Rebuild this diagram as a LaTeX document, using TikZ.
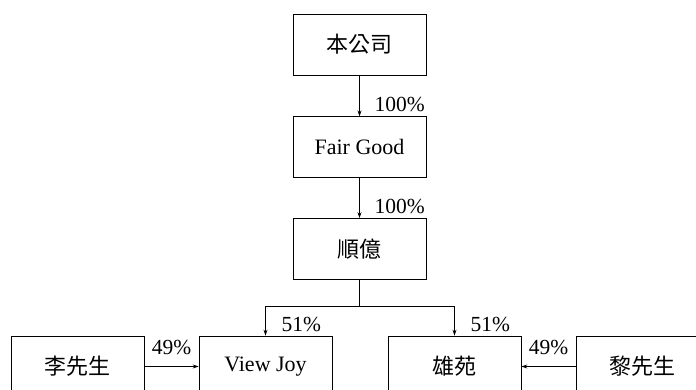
\documentclass[tikz,border=0pt]{standalone}
\usepackage{fontspec}
\setmainfont{Liberation Serif}
\newfontfamily\cjk{Noto Sans CJK TC}
\usetikzlibrary{positioning, arrows.meta}
\tikzset{
	entity/.style = {draw, line width=0.7pt, minimum width=133pt, minimum height=61pt, inner sep=0pt, font=\fontsize{22}{25}\selectfont},
	holding/.style = {line width=0.7pt, -{Stealth[length=6pt, width=4pt]}},
	share/.style = {font=\fontsize{21.5}{24}\selectfont, inner sep=2pt},
}

\begin{document}
\begin{tikzpicture}[x=1pt, y=1pt]
	\useasboundingbox (0,0) rectangle (696,390);
	\node[entity] (company) at (359.5,345.5) {\cjk 本公司};
	\node[entity, below=41pt of company] (fairgood) {Fair Good};
	\node[entity, below=40pt of fairgood] (shunyi) {\cjk 順億};
	\node[entity] (li)        at (77.5,23.5)  {\cjk 李先生};
	\node[entity] (viewjoy)   at (265.5,23.5) {View Joy};
	\node[entity] (xiongyuan) at (454.5,23.5) {\cjk 雄苑};
	\node[entity] (lai)       at (642.5,23.5) {\cjk 黎先生};
	\coordinate (split) at (359.5,84);
	% chain of control
	\draw[holding] (company) -- (fairgood);
	\node[share, anchor=south west] at ([xshift=13pt, yshift=2pt]fairgood.north) {100\%};
	\draw[holding] (fairgood) -- (shunyi);
	\node[share, anchor=south west] at ([xshift=13pt, yshift=2pt]shunyi.north) {100\%};
	% branch to the two subsidiaries
	\draw[line width=0.7pt] (shunyi) -- (split);
	\draw[holding] (split) -| (viewjoy);
	\draw[holding] (split) -| (xiongyuan);
	\node[share, anchor=south west] at ([xshift=14pt, yshift=2pt]viewjoy.north) {51\%};
	\node[share, anchor=south west] at ([xshift=14pt, yshift=2pt]xiongyuan.north) {51\%};
	% minority holders
	\draw[holding] (li) -- (viewjoy) node[share, midway, above=9pt] {49\%};
	\draw[holding] (lai) -- (xiongyuan) node[share, midway, above=9pt] {49\%};
\end{tikzpicture}
\end{document}
